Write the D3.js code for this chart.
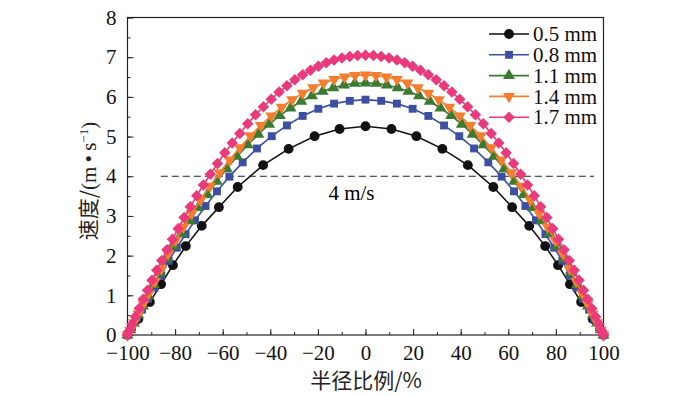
<!DOCTYPE html>
<html>
<head>
<meta charset="utf-8">
<script src="https://cdn.jsdelivr.net/npm/d3@7"></script>
<style>
  body { margin: 0; background: #fff; }
  text { font-family: "Liberation Serif", "Times New Roman", serif; }
</style>
</head>
<body>
<svg id="chart" width="700" height="396"></svg>
<script>
// legend names and colours
var seriesNames = ["0.5 mm", "0.8 mm", "1.1 mm", "1.4 mm", "1.7 mm"];
var seriesColors = ["#111111", "#3d4fa0", "#3a7a31", "#f47d2e", "#ea3a7c"];

// radius ratio (%) and velocity (m/s)
var x05 = [-100, -95.5, -90.6, -85.9, -80.9, -75.5, -68.8, -61.6, -53.7, -43, -32.3, -21.4, -10.9, 0,
           10.9, 21.4, 32.3, 43, 53.7, 61.6, 68.8, 75.5, 80.9, 85.9, 90.6, 95.5, 100];
var v05 = [0, 0.40, 0.83, 1.28, 1.76, 2.24, 2.75, 3.22, 3.73, 4.28, 4.69, 5.01, 5.19, 5.26,
           5.19, 5.01, 4.69, 4.28, 3.73, 3.22, 2.75, 2.24, 1.76, 1.28, 0.83, 0.40, 0];

var x08 = [-100, -98.1, -96.1, -93.9, -91.4, -88.7, -85.8, -82.7, -79.3, -75.6, -71.6, -67.2, -62.4, -57.2,
           -51.6, -45.6, -39.4, -33, -26.4, -19.8, -13.2, -6.6, 0,
           6.6, 13.2, 19.8, 26.4, 33, 39.4, 45.6, 51.6, 57.2, 62.4, 67.2, 71.6, 75.6, 79.3,
           82.7, 85.8, 88.7, 91.4, 93.9, 96.1, 98.1, 100];
var v08 = [0, 0.20, 0.41, 0.64, 0.91, 1.19, 1.50, 1.87, 2.20, 2.54, 2.89, 3.25, 3.62, 3.99,
           4.35, 4.70, 5.01, 5.28, 5.52, 5.70, 5.83, 5.90, 5.93,
           5.90, 5.83, 5.70, 5.52, 5.28, 5.01, 4.70, 4.35, 3.99, 3.62, 3.25, 2.89, 2.54, 2.20,
           1.87, 1.50, 1.19, 0.91, 0.64, 0.41, 0.20, 0];

var x11 = [-100, -98.8, -97.3, -95.5, -93.5, -91.3, -88.9, -86.3, -83.5, -80.5, -77.3, -73.9, -70.3, -66.5,
           -62.5, -58.3, -54, -49.5, -45, -40.5, -36, -31.5, -27, -22.5, -18, -13.5, -9, -4.5, 0,
           4.5, 9, 13.5, 18, 22.5, 27, 31.5, 36, 40.5, 45, 49.5, 54, 58.3, 62.5,
           66.5, 70.3, 73.9, 77.3, 80.5, 83.5, 86.3, 88.9, 91.3, 93.5, 95.5, 97.3, 98.8, 100];
var v11 = [0, 0.13, 0.30, 0.50, 0.73, 0.99, 1.27, 1.57, 1.92, 2.24, 2.56, 2.88, 3.21, 3.54,
           3.87, 4.19, 4.50, 4.79, 5.06, 5.31, 5.53, 5.72, 5.89, 6.03, 6.14, 6.23, 6.30, 6.34, 6.35,
           6.34, 6.30, 6.23, 6.14, 6.03, 5.89, 5.72, 5.53, 5.31, 5.06, 4.79, 4.50, 4.19, 3.87,
           3.54, 3.21, 2.88, 2.56, 2.24, 1.92, 1.57, 1.27, 0.99, 0.73, 0.50, 0.30, 0.13, 0];

var x14 = [-100, -98.9, -97.3, -95.4, -93.3, -91, -88.5, -85.8, -82.9, -79.8, -76.5, -73, -69.3, -65.4,
           -61.3, -57.1, -52.8, -48.4, -44, -39.6, -35.2, -30.8, -26.4, -22, -17.6, -13.2, -8.8, -4.4, 0,
           4.4, 8.8, 13.2, 17.6, 22, 26.4, 30.8, 35.2, 39.6, 44, 48.4, 52.8, 57.1, 61.3,
           65.4, 69.3, 73, 76.5, 79.8, 82.9, 85.8, 88.5, 91, 93.3, 95.4, 97.3, 98.9, 100];
var v14 = [0, 0.12, 0.31, 0.53, 0.78, 1.05, 1.35, 1.67, 2.05, 2.38, 2.72, 3.06, 3.40, 3.75,
           4.09, 4.41, 4.72, 5.02, 5.28, 5.52, 5.74, 5.93, 6.09, 6.23, 6.35, 6.44, 6.50, 6.54, 6.55,
           6.54, 6.50, 6.44, 6.35, 6.23, 6.09, 5.93, 5.74, 5.52, 5.28, 5.02, 4.72, 4.41, 4.09,
           3.75, 3.40, 3.06, 2.72, 2.38, 2.05, 1.67, 1.35, 1.05, 0.78, 0.53, 0.31, 0.12, 0];

var x17 = [-100, -99.2, -98.1, -96.7, -95.1, -93.4, -91.6, -89.7, -87.7, -85.6, -83.4, -81.1, -78.7,
           -76.2, -73.6, -70.9, -68.1, -65.2, -62.2, -59.1, -56, -52.8, -49.5, -46.2, -42.9, -39.6,
           -36.3, -33, -29.7, -26.4, -23.1, -19.8, -16.5, -13.2, -9.9, -6.6, -3.3, 0,
           3.3, 6.6, 9.9, 13.2, 16.5, 19.8, 23.1, 26.4, 29.7, 33, 36.3, 39.6, 42.9,
           46.2, 49.5, 52.8, 56, 59.1, 62.2, 65.2, 68.1, 70.9, 73.6, 76.2, 78.7, 81.1,
           83.4, 85.6, 87.7, 89.7, 91.6, 93.4, 95.1, 96.7, 98.1, 99.2, 100];
var v17 = [0, 0.11, 0.27, 0.46, 0.67, 0.90, 1.13, 1.38, 1.63, 1.88, 2.15, 2.41, 2.68,
           2.96, 3.23, 3.51, 3.78, 4.05, 4.32, 4.59, 4.84, 5.08, 5.32, 5.55, 5.75, 5.94,
           6.12, 6.28, 6.43, 6.56, 6.67, 6.77, 6.86, 6.93, 6.98, 7.02, 7.04, 7.05,
           7.04, 7.02, 6.98, 6.93, 6.86, 6.77, 6.67, 6.56, 6.43, 6.28, 6.12, 5.94, 5.75,
           5.55, 5.32, 5.08, 4.84, 4.59, 4.32, 4.05, 3.78, 3.51, 3.23, 2.96, 2.68, 2.41,
           2.15, 1.88, 1.63, 1.38, 1.13, 0.90, 0.67, 0.46, 0.27, 0.11, 0];

var xValues = [x05, x08, x11, x14, x17];
var vValues = [v05, v08, v11, v14, v17];

// 4 m/s reference line
var refX = [-86, 96];
var refV = 4;
var refLabel = "4 m/s";
var refLabelX = 0;

var xTicks = [-100, -80, -60, -40, -20, 0, 20, 40, 60, 80, 100];
var yTicks = [0, 1, 2, 3, 4, 5, 6, 7, 8];

var svg = d3.select("#chart");

var x = d3.scaleLinear().domain([-100, 100]).range([127.5, 603.5]);
var y = d3.scaleLinear().domain([0, 8]).range([335, 17.5]);

// minor ticks
svg.append("g")
  .attr("transform", "translate(0," + y(0) + ")")
  .call(d3.axisBottom(x).ticks(20).tickSize(-3).tickFormat(""))
  .call(function(g) { g.select(".domain").remove(); });
svg.append("g")
  .attr("transform", "translate(" + x(-100) + ",0)")
  .call(d3.axisLeft(y).ticks(16).tickSize(-3).tickFormat(""))
  .call(function(g) { g.select(".domain").remove(); });

// major ticks with labels
var xAxis = svg.append("g")
  .attr("transform", "translate(0," + y(0) + ")")
  .call(d3.axisBottom(x).tickValues(xTicks).tickSize(-6).tickPadding(10).tickFormat(d3.format("d")));
var yAxis = svg.append("g")
  .attr("transform", "translate(" + x(-100) + ",0)")
  .call(d3.axisLeft(y).tickValues(yTicks).tickSize(-6).tickPadding(11).tickFormat(d3.format("d")));

[xAxis, yAxis].forEach(function(g) {
  g.select(".domain").remove();
  g.selectAll("text").style("font-family", "'Liberation Serif', serif").style("font-size", "21px").attr("fill", "#111");
});
svg.selectAll(".tick line").attr("stroke", "#222");

// frame
svg.append("rect")
  .attr("x", x(-100)).attr("y", y(8))
  .attr("width", x(100) - x(-100)).attr("height", y(0) - y(8))
  .attr("fill", "none").attr("stroke", "#222").attr("stroke-width", 1.2);

// dashed 4 m/s line
svg.append("line")
  .attr("x1", x(refX[0])).attr("x2", x(refX[1]))
  .attr("y1", y(refV)).attr("y2", y(refV))
  .attr("stroke", "#222").attr("stroke-width", 1)
  .attr("stroke-dasharray", "7,4");
svg.append("text")
  .attr("x", x(refLabelX) - 14).attr("y", y(refV) + 24)
  .attr("text-anchor", "middle")
  .style("font-size", "21px")
  .text(refLabel);

// marker shapes
var symbols = [
  {type: d3.symbolCircle, size: 76, rot: 0},
  {type: d3.symbolSquare, size: 62, rot: 0},
  {type: d3.symbolTriangle, size: 62, rot: 0},
  {type: d3.symbolTriangle, size: 62, rot: 180},
  {type: d3.symbolSquare, size: 66, rot: 45}
];

var line = d3.line()
  .x(function(d) { return x(d[0]); })
  .y(function(d) { return y(d[1]); });

seriesNames.forEach(function(name, i) {
  var pts = xValues[i].map(function(xv, j) { return [xv, vValues[i][j]]; });
  var g = svg.append("g");
  g.append("path")
    .attr("d", line(pts))
    .attr("fill", "none")
    .attr("stroke", seriesColors[i])
    .attr("stroke-width", 1.6);
  g.selectAll("path.pt")
    .data(pts)
    .enter().append("path")
    .attr("class", "pt")
    .attr("d", d3.symbol().type(symbols[i].type).size(symbols[i].size))
    .attr("transform", function(d) {
      return "translate(" + x(d[0]) + "," + y(d[1]) + ") rotate(" + symbols[i].rot + ")";
    })
    .attr("fill", seriesColors[i]);
});

// legend
var legend = svg.append("g");
seriesNames.forEach(function(name, i) {
  var ly = 34 + i * 20.8;
  legend.append("line")
    .attr("x1", 489).attr("x2", 529).attr("y1", ly).attr("y2", ly)
    .attr("stroke", seriesColors[i]).attr("stroke-width", 1.6);
  legend.append("path")
    .attr("d", d3.symbol().type(symbols[i].type).size(symbols[i].size))
    .attr("transform", "translate(509," + ly + ") rotate(" + symbols[i].rot + ")")
    .attr("fill", seriesColors[i]);
  legend.append("text")
    .attr("x", 533).attr("y", ly).attr("dy", "0.34em")
    .style("font-size", "21px")
    .attr("fill", "#111")
    .text(name);
});

// axis titles
svg.append("text")
  .attr("x", 366).attr("y", 388)
  .attr("text-anchor", "middle")
  .style("font-family", "'Noto Sans CJK SC', sans-serif")
  .style("font-size", "21px")
  .attr("fill", "#222")
  .text("半径比例/%");

var yTitle = svg.append("text")
  .attr("transform", "translate(96,181) rotate(-90)")
  .attr("text-anchor", "middle")
  .style("font-size", "21px")
  .attr("fill", "#222");
yTitle.append("tspan").style("font-family", "'Noto Sans CJK SC', sans-serif").text("速度/");
yTitle.append("tspan").text("(m\u2009\u2022\u2009s");
yTitle.append("tspan").attr("dy", -8).style("font-size", "13px").text("\u22121");
yTitle.append("tspan").attr("dy", 8).text(")");
</script>
</body>
</html>
